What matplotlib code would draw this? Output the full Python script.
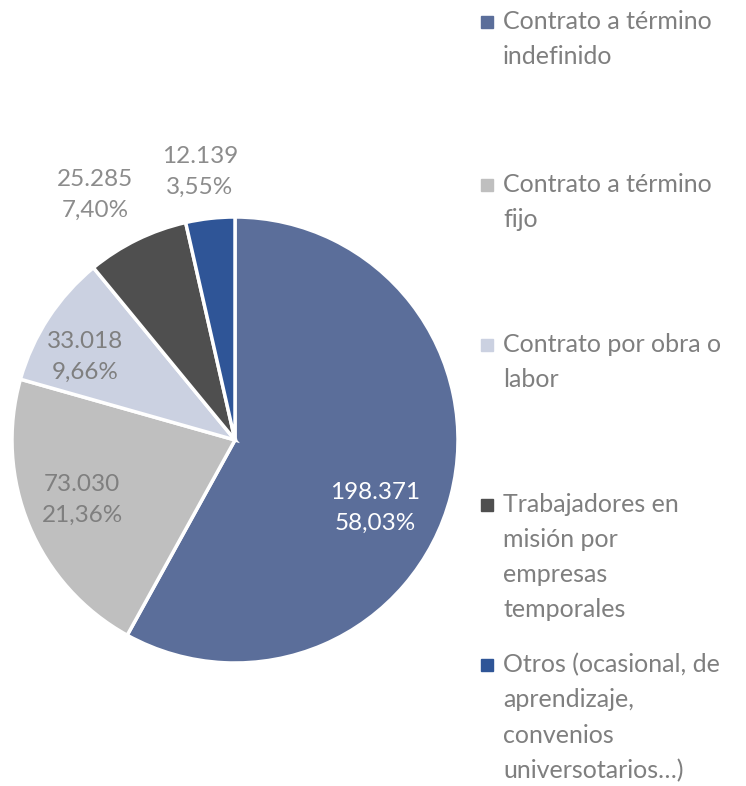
import matplotlib
matplotlib.use("Agg")
import matplotlib.pyplot as plt

categories = ["Contrato a término\nindefinido", "Contrato a término\nfijo",
              "Contrato por obra o\nlabor", "Trabajadores en\nmisión por\nempresas\ntemporales",
              "Otros (ocasional, de\naprendizaje,\nconvenios\nuniversotarios…)"]
values = [198371, 73030, 33018, 25285, 12139]
value_labels = ["198.371", "73.030", "33.018", "25.285", "12.139"]
pct_labels = ["58,03%", "21,36%", "9,66%", "7,40%", "3,55%"]
colors = ["#5B6E9A", "#BFBFBF", "#CBD1E1", "#4F4F4F", "#2F5597"]
label_colors = ["#FFFFFF", "#7F7F7F", "#7F7F7F", "#8C8C8C", "#8C8C8C"]
label_pos = [(0.628, -0.305), (-0.686, -0.269), (-0.673, 0.372), (-0.628, 1.099), (-0.157, 1.202)]

plt.rcParams['font.family'] = ['Lato', 'DejaVu Sans']
W, H = 746, 786
fig = plt.figure(figsize=(W / 100, H / 100), dpi=100)
cx, cy, r = 235, 440, 223
ax = fig.add_axes([(cx - r) / W, 1 - (cy + r) / H, 2 * r / W, 2 * r / H])
ax.pie(values, colors=colors, startangle=90, counterclock=False, radius=1,
       wedgeprops=dict(edgecolor="white", linewidth=2.5))
ax.set_xlim(-1, 1)
ax.set_ylim(-1, 1)
ax.set_aspect("equal")
ax.axis("off")
for (x, y), v, p, c in zip(label_pos, value_labels, pct_labels, label_colors):
    ax.text(x, y, v + "\n" + p, ha="center", va="center", fontsize=17.5, color=c,
            linespacing=1.6, clip_on=False)

leg_y = [22, 185, 345, 505, 665]
for lab, col, y in zip(categories, colors, leg_y):
    fig.patches.append(plt.Rectangle((481 / W, 1 - (y + 6) / H), 12 / W, 12 / H,
                                     transform=fig.transFigure, color=col))
    fig.text(503 / W, 1 - (y - 12) / H, lab, ha="left", va="top", fontsize=18,
             color="#7F7F7F", linespacing=1.64)

fig.savefig("out.png", dpi=100, facecolor="white")
